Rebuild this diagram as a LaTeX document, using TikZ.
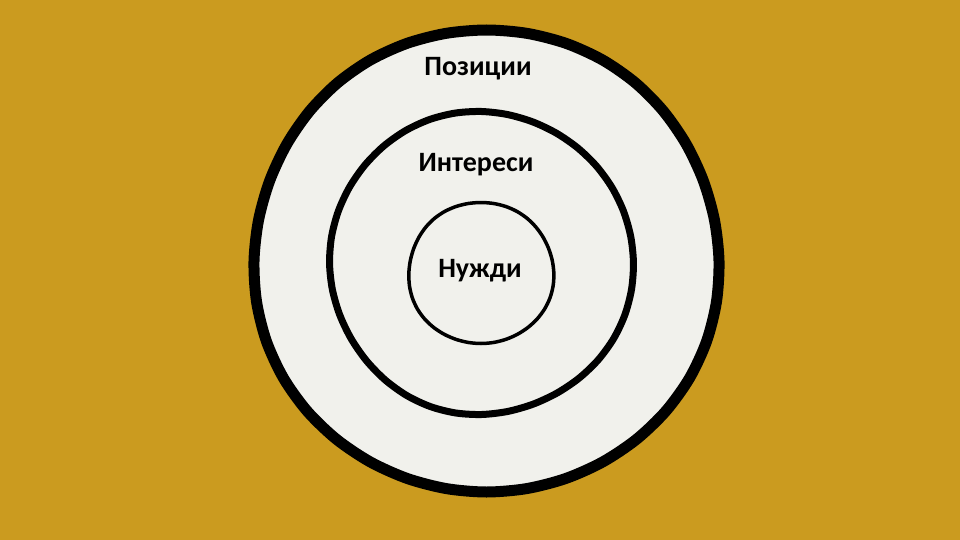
\documentclass[tikz,border=0pt]{standalone}
\usepackage{fontspec}
\setmainfont{Carlito}
\definecolor{mustard}{HTML}{CB9B1F}
\definecolor{paper}{HTML}{F1F1EC}
\begin{document}
\begin{tikzpicture}[x=1pt, y=-1pt,
    ring/.style={draw=black, fill=paper, line join=round},
    ringtext/.style={font=\fontsize{28}{34}\selectfont\bfseries}]
  % background
  \fill[mustard] (0,0) rectangle (960,540);
  \useasboundingbox (0,0) rectangle (960,540);

  % draw the rings, outer first
  \draw[ring, line width=11pt] plot[smooth cycle, samples=36, domain=0:350, variable=\t]
    ({486.5+(232.5+2*sin(3*\t))*cos(\t)}, {261+(233+2*cos(2*\t))*sin(\t)});
  \draw[ring, line width=7pt] plot[smooth cycle, samples=36, domain=0:350, variable=\t]
    ({481.5+(151+1.5*sin(2*\t+40))*cos(\t)}, {263+(151.5+1.5*cos(3*\t))*sin(\t)});
  \draw[ring, line width=3.5pt] plot[smooth cycle, samples=36, domain=0:350, variable=\t]
    ({481+(72.5+1*sin(3*\t+20))*cos(\t)}, {273+(71.5+1*cos(2*\t))*sin(\t)});

  % labels
  \node[ringtext] (positions) at (478,69) {Позиции};
  \node[ringtext] (interests) at (476,165) {Интереси};
  \node[ringtext] (needs) at (480,271) {Нужди};
\end{tikzpicture}
\end{document}
